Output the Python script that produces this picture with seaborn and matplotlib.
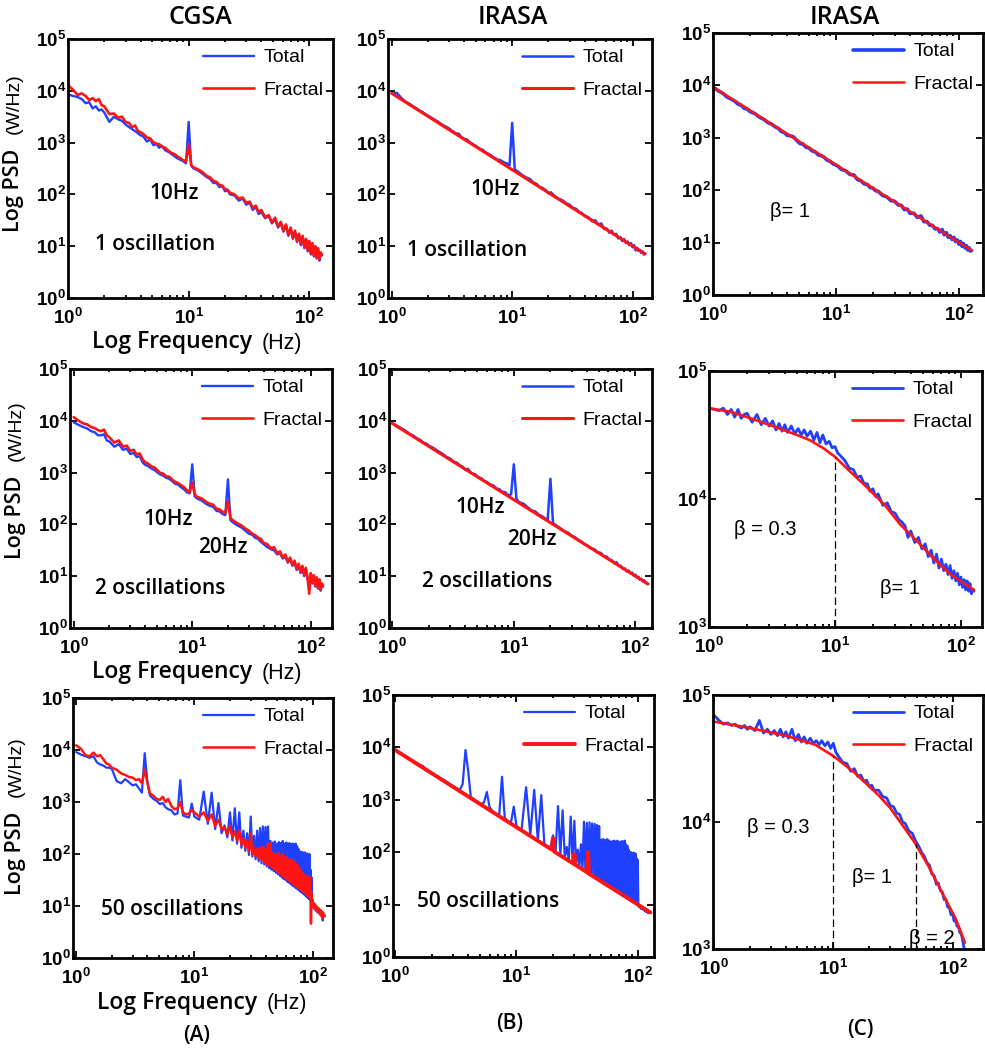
import numpy as np
import matplotlib
matplotlib.use("Agg")
import matplotlib.pyplot as plt
import matplotlib.ticker as mticker
import seaborn as sns

# ---------------- data (log10 PSD) ----------------
freq = [1.0, 1.1, 1.2, 1.3, 1.4, 1.5, 1.6, 1.7, 1.8, 1.9,
        2.0, 2.2, 2.4, 2.6, 2.8, 3.0, 3.2, 3.4, 3.6, 3.8,
        4.0, 4.2, 4.5, 4.8, 5.1, 5.4, 5.7, 6.0, 6.4, 6.8,
        7.2, 7.6, 8.0, 8.5, 9.0, 9.5, 10.0, 10.5, 11.0, 12.0,
        13.0, 14.0, 15.0, 16.0, 17.0, 18.0, 19.0, 20.0, 21.0, 22.0,
        24.0, 26.0, 28.0, 30.0, 32.0, 34.0, 36.0, 38.0, 40.0, 43.0,
        46.0, 49.0, 52.0, 55.0, 58.0, 61.0, 64.0, 67.0, 70.0, 73.0,
        76.0, 79.0, 82.0, 85.0, 88.0, 91.0, 94.0, 97.0, 100.0, 103.0,
        106.0, 109.0, 112.0, 115.0, 118.0, 121.0, 124.0, 127.0]

# 1 Hz bins for the 50-oscillation spectra
freq_50 = [1.0, 1.1, 1.2, 1.3, 1.4, 1.5, 1.6, 1.7, 1.8, 1.9,
           2.0, 2.2, 2.4, 2.6, 2.8, 3.0, 3.2, 3.4, 3.6, 3.8,
           4.0, 4.2, 4.5, 4.8, 5.1, 5.4, 5.7, 6.0, 6.4, 6.8,
           7.2, 7.6, 8.0, 8.5, 9.0, 9.5,
           10, 11, 12, 13, 14, 15, 16, 17, 18, 19,
           20, 21, 22, 23, 24, 25, 26, 27, 28, 29,
           30, 31, 32, 33, 34, 35, 36, 37, 38, 39,
           40, 41, 42, 43, 44, 45, 46, 47, 48, 49,
           50, 51, 52, 53, 54, 55, 56, 57, 58, 59,
           60, 61, 62, 63, 64, 65, 66, 67, 68, 69,
           70, 71, 72, 73, 74, 75, 76, 77, 78, 79,
           80, 81, 82, 83, 84, 85, 86, 87, 88, 89,
           90, 91, 92, 93, 94, 95, 96, 97, 98, 99,
           100, 101, 102, 103, 104, 105, 106, 107, 108, 109,
           110, 111, 112, 113, 114, 115, 116, 117, 118, 119,
           120, 121, 122, 123, 124, 127]

# CGSA, 1 oscillation
a1_total = [3.93, 3.90, 3.88, 3.84, 3.76, 3.78, 3.66, 3.70, 3.62, 3.64,
            3.58, 3.40, 3.50, 3.45, 3.42, 3.35, 3.30, 3.26, 3.22, 3.18,
            3.14, 3.12, 3.02, 3.06, 2.95, 2.97, 2.90, 2.94, 2.85, 2.82,
            2.78, 2.74, 2.70, 2.67, 2.64, 2.60, 3.40, 2.55, 2.50, 2.46,
            2.40, 2.34, 2.30, 2.22, 2.22, 2.14, 2.16, 2.06, 2.08, 2.00,
            1.98, 1.88, 1.92, 1.80, 1.84, 1.70, 1.76, 1.62, 1.66, 1.54,
            1.58, 1.44, 1.52, 1.36, 1.44, 1.28, 1.40, 1.20, 1.33, 1.14,
            1.27, 1.08, 1.22, 1.02, 1.17, 0.96, 1.12, 0.90, 1.07, 0.84,
            1.03, 0.80, 0.98, 0.76, 0.93, 0.72, 0.86, 0.82]
a1_fractal = [4.11, 4.02, 3.92, 3.95, 3.90, 3.82, 3.86, 3.80, 3.84, 3.72,
              3.70, 3.55, 3.56, 3.48, 3.50, 3.40, 3.38, 3.30, 3.33, 3.22,
              3.20, 3.17, 3.10, 3.08, 3.01, 2.98, 2.97, 2.92, 2.90, 2.84,
              2.80, 2.78, 2.74, 2.70, 2.66, 2.64, 2.97, 2.56, 2.52, 2.48,
              2.43, 2.36, 2.33, 2.26, 2.24, 2.18, 2.17, 2.10, 2.09, 2.03,
              2.00, 1.92, 1.94, 1.84, 1.86, 1.74, 1.78, 1.66, 1.70, 1.56,
              1.60, 1.46, 1.55, 1.38, 1.47, 1.30, 1.42, 1.22, 1.36, 1.16,
              1.30, 1.10, 1.24, 1.05, 1.20, 0.98, 1.14, 0.92, 1.10, 0.86,
              1.06, 0.82, 1.00, 0.78, 0.96, 0.75, 0.88, 0.84]

# CGSA, 2 oscillations
a2_total = [3.97, 3.92, 3.88, 3.85, 3.80, 3.78, 3.72, 3.72, 3.74, 3.62,
            3.60, 3.50, 3.55, 3.44, 3.46, 3.36, 3.38, 3.30, 3.32, 3.20,
            3.15, 3.13, 3.08, 3.05, 3.00, 2.96, 2.94, 2.90, 2.88, 2.83,
            2.78, 2.77, 2.72, 2.68, 2.62, 2.60, 3.16, 2.54, 2.50, 2.46,
            2.40, 2.36, 2.34, 2.26, 2.25, 2.20, 2.18, 2.87, 2.08, 2.04,
            1.98, 1.94, 1.88, 1.82, 1.80, 1.74, 1.72, 1.66, 1.62, 1.56,
            1.52, 1.50, 1.42, 1.44, 1.34, 1.38, 1.26, 1.32, 1.20, 1.26,
            1.12, 1.20, 1.06, 1.15, 1.00, 1.12, 0.94, 0.80, 1.02, 0.86,
            0.98, 0.80, 0.95, 0.76, 0.90, 0.72, 0.84, 0.80]
a2_fractal = [4.07, 4.00, 3.95, 3.93, 3.88, 3.86, 3.82, 3.80, 3.83, 3.72,
              3.68, 3.58, 3.62, 3.50, 3.52, 3.42, 3.44, 3.35, 3.37, 3.26,
              3.20, 3.18, 3.12, 3.10, 3.04, 2.99, 2.98, 2.93, 2.92, 2.86,
              2.82, 2.80, 2.76, 2.72, 2.66, 2.62, 2.81, 2.58, 2.53, 2.50,
              2.44, 2.40, 2.38, 2.30, 2.29, 2.24, 2.22, 2.45, 2.12, 2.08,
              2.02, 1.98, 1.92, 1.88, 1.82, 1.79, 1.74, 1.72, 1.64, 1.62,
              1.54, 1.56, 1.44, 1.48, 1.36, 1.42, 1.28, 1.36, 1.22, 1.30,
              1.14, 1.24, 1.08, 1.20, 1.02, 1.16, 0.96, 0.66, 1.06, 0.88,
              1.02, 0.82, 0.98, 0.78, 0.94, 0.74, 0.86, 0.82]

# CGSA, 50 oscillations
a3_total = [3.96, 3.91, 3.88, 3.85, 3.88, 3.76, 3.72, 3.70, 3.66, 3.66,
            3.64, 3.40, 3.36, 3.44, 3.38, 3.32, 3.34, 3.26, 3.18, 3.94,
            3.40, 3.13, 3.06, 3.02, 2.96, 2.98, 2.90, 2.86, 2.84, 2.76,
            2.78, 3.42, 2.74, 2.72, 2.70, 2.97,
            2.72, 2.66, 3.20, 2.58, 3.18, 2.48, 2.98, 2.40, 2.55, 2.32,
            2.80, 2.26, 2.88, 2.20, 2.80, 2.12, 2.45, 2.06, 2.40, 1.98,
            2.72, 1.95, 2.35, 1.90, 2.45, 1.86, 2.50, 1.82, 2.53, 1.80,
            2.52, 1.76, 2.53, 1.73, 2.25, 1.70, 2.22, 1.67, 2.24, 1.64,
            2.20, 1.61, 2.23, 1.58, 2.21, 1.55, 2.25, 1.52, 2.20, 1.50,
            2.22, 1.47, 2.20, 1.45, 2.21, 1.43, 2.19, 1.40, 2.20, 1.38,
            2.18, 1.36, 2.20, 1.34, 2.15, 1.32, 2.10, 1.30, 2.05, 1.28,
            2.03, 1.26, 2.04, 1.24, 2.02, 1.22, 2.03, 1.20, 2.00, 1.18,
            2.01, 1.16, 1.98, 1.14, 2.00, 1.12, 1.70, 1.10, 1.55, 1.05,
            1.02, 1.00, 0.96, 1.01, 0.94, 0.98, 0.92, 0.96, 0.90, 0.95,
            0.88, 0.93, 0.90, 0.92, 0.86, 0.90, 0.84, 0.89, 0.83, 0.88,
            0.80, 0.86, 0.72, 0.85, 0.83, 0.82]
a3_fractal = [4.09, 4.02, 3.90, 3.88, 3.95, 3.88, 3.90, 3.82, 3.74, 3.72,
              3.66, 3.62, 3.55, 3.52, 3.48, 3.47, 3.42, 3.44, 3.36, 3.62,
              3.38, 3.17, 3.12, 3.06, 3.04, 3.10, 3.00, 3.06, 2.92, 2.86,
              2.88, 3.00, 2.80, 2.76, 2.78, 2.85,
              2.80, 2.72, 2.80, 2.64, 2.76, 2.54, 2.66, 2.48, 2.52, 2.38,
              2.54, 2.32, 2.44, 2.26, 2.45, 2.18, 2.30, 2.12, 2.26, 2.04,
              2.40, 2.00, 2.12, 1.96, 2.10, 1.92, 2.12, 1.88, 2.14, 1.84,
              2.10, 1.80, 2.20, 1.78, 2.21, 1.75, 2.02, 1.72, 2.00, 1.68,
              1.98, 1.65, 2.02, 1.62, 1.95, 1.59, 2.00, 1.56, 1.92, 1.54,
              1.95, 1.51, 1.88, 1.49, 1.90, 1.47, 1.85, 1.44, 1.88, 1.42,
              1.84, 1.40, 1.82, 1.38, 1.80, 1.36, 1.74, 1.34, 1.72, 1.32,
              1.66, 1.30, 1.62, 1.28, 1.60, 1.26, 1.58, 1.24, 1.56, 1.22,
              1.58, 1.20, 1.55, 1.18, 1.56, 1.16, 1.30, 0.66, 1.25, 1.10,
              1.12, 1.04, 0.98, 1.05, 0.96, 1.02, 0.94, 1.00, 0.92, 0.98,
              0.90, 0.96, 0.88, 0.95, 0.86, 0.93, 0.84, 0.92, 0.82, 0.90,
              0.80, 0.88, 0.78, 0.87, 0.82, 0.80]

# IRASA (1/f noise + oscillations)
b1_total = [3.95, 3.96, 3.86, 3.79, 3.75, 3.70, 3.66, 3.62, 3.59, 3.55,
            3.52, 3.46, 3.41, 3.35, 3.31, 3.27, 3.22, 3.18, 3.17, 3.10,
            3.07, 3.06, 3.00, 2.96, 2.92, 2.88, 2.86, 2.81, 2.78, 2.74,
            2.70, 2.67, 2.66, 2.62, 2.60, 2.56, 3.38, 2.48, 2.45, 2.38,
            2.33, 2.30, 2.23, 2.20, 2.14, 2.12, 2.08, 2.02, 2.04, 1.99,
            1.92, 1.89, 1.83, 1.80, 1.74, 1.72, 1.66, 1.64, 1.58, 1.56,
            1.48, 1.50, 1.42, 1.44, 1.33, 1.34, 1.26, 1.30, 1.22, 1.24,
            1.15, 1.18, 1.10, 1.14, 1.06, 1.09, 1.02, 1.06, 0.98, 1.02,
            0.92, 0.97, 0.91, 0.93, 0.87, 0.90, 0.84, 0.86]
b1_fractal_f = [1.0, 127.0]
b1_fractal = [3.95, 0.85]

b2_total = [3.95, 3.90, 3.85, 3.80, 3.74, 3.71, 3.66, 3.63, 3.58, 3.56,
            3.52, 3.47, 3.41, 3.36, 3.30, 3.27, 3.21, 3.19, 3.14, 3.11,
            3.05, 3.07, 2.98, 2.97, 2.91, 2.89, 2.84, 2.82, 2.77, 2.75,
            2.69, 2.68, 2.63, 2.62, 2.56, 2.58, 3.16, 2.50, 2.43, 2.40,
            2.33, 2.27, 2.25, 2.19, 2.16, 2.12, 2.09, 2.88, 2.03, 1.99,
            1.93, 1.87, 1.84, 1.78, 1.75, 1.70, 1.67, 1.62, 1.60, 1.54,
            1.52, 1.46, 1.45, 1.38, 1.38, 1.32, 1.31, 1.25, 1.27, 1.20,
            1.20, 1.14, 1.15, 1.09, 1.11, 1.05, 1.07, 1.01, 1.03, 0.97,
            0.99, 0.93, 0.95, 0.90, 0.92, 0.87, 0.86, 0.85]
b2_fractal_f = [1.0, 127.0]
b2_fractal = [3.95, 0.85]

b3_total = [3.96, 3.89, 3.84, 3.78, 3.74, 3.70, 3.67, 3.64, 3.58, 3.55,
            3.50, 3.46, 3.40, 3.36, 3.30, 3.26, 3.22, 3.18, 3.30, 3.95,
            3.55, 3.06, 3.00, 2.96, 2.91, 2.95, 3.15, 2.86, 2.77, 2.73,
            2.70, 3.44, 2.66, 2.59, 2.56, 2.87,
            2.50, 2.42, 3.24, 2.33, 3.19, 2.22, 3.09, 2.14, 2.12, 2.08,
            2.32, 2.01, 2.88, 1.95, 2.80, 1.90, 2.10, 1.85, 2.68, 1.80,
            2.60, 1.76, 2.05, 1.72, 2.15, 1.68, 2.58, 1.65, 2.56, 1.61,
            2.57, 1.58, 2.55, 1.55, 2.54, 1.52, 2.52, 1.49, 2.50, 1.47,
            2.24, 1.44, 2.25, 1.41, 2.23, 1.39, 2.25, 1.37, 2.22, 1.35,
            2.20, 1.32, 2.21, 1.30, 2.22, 1.28, 2.20, 1.26, 2.22, 1.25,
            2.18, 1.23, 2.20, 1.21, 2.21, 1.19, 2.20, 1.18, 2.22, 1.16,
            2.15, 1.14, 2.12, 1.13, 2.05, 1.11, 2.00, 1.10, 2.00, 1.08,
            1.98, 1.07, 1.99, 1.05, 1.98, 1.04, 1.97, 1.03, 1.88, 1.01,
            1.85, 1.00, 0.96, 0.99, 0.95, 0.98, 0.92, 0.96, 0.93, 0.95,
            0.91, 0.94, 0.90, 0.93, 0.88, 0.92, 0.87, 0.91, 0.86, 0.90,
            0.85, 0.89, 0.84, 0.88, 0.86, 0.85]
b3_fractal_f = [1.0, 19.5, 20.0, 20.5, 29.5, 30.0, 30.5, 38.5, 39.0, 39.5, 127.0]
b3_fractal = [3.95, 2.05, 2.27, 2.01, 1.78, 1.97, 1.76, 1.61, 2.00, 1.59, 0.85]

# IRASA (pure fractal signals, beta = 1 / broken power laws)
c1_total = [3.97, 3.90, 3.85, 3.78, 3.74, 3.70, 3.64, 3.62, 3.56, 3.55,
            3.50, 3.46, 3.39, 3.35, 3.29, 3.26, 3.21, 3.18, 3.12, 3.10,
            3.05, 3.04, 3.02, 2.95, 2.89, 2.88, 2.82, 2.81, 2.75, 2.73,
            2.67, 2.66, 2.63, 2.57, 2.55, 2.50, 2.48, 2.45, 2.40, 2.37,
            2.30, 2.29, 2.20, 2.18, 2.12, 2.11, 2.05, 2.04, 1.99, 1.98,
            1.90, 1.87, 1.80, 1.79, 1.72, 1.71, 1.63, 1.64, 1.56, 1.56,
            1.48, 1.51, 1.40, 1.40, 1.33, 1.33, 1.26, 1.27, 1.20, 1.25,
            1.15, 1.19, 1.10, 1.13, 1.06, 1.10, 1.02, 1.05, 0.97, 1.02,
            0.93, 0.98, 0.90, 0.94, 0.86, 0.90, 0.84, 0.85]
c1_fractal_f = [1.0, 127.0]
c1_fractal = [3.97, 0.85]

c2_total = [4.71, 4.70, 4.69, 4.71, 4.66, 4.70, 4.64, 4.70, 4.63, 4.66,
            4.67, 4.60, 4.66, 4.58, 4.63, 4.57, 4.61, 4.54, 4.59, 4.53,
            4.58, 4.52, 4.57, 4.51, 4.55, 4.50, 4.54, 4.49, 4.53, 4.46,
            4.52, 4.44, 4.50, 4.43, 4.45, 4.40, 4.41, 4.36, 4.34, 4.30,
            4.24, 4.23, 4.17, 4.18, 4.12, 4.12, 4.06, 4.08, 4.02, 4.04,
            3.95, 3.97, 3.90, 3.89, 3.84, 3.82, 3.79, 3.70, 3.75, 3.66,
            3.70, 3.61, 3.65, 3.55, 3.60, 3.50, 3.57, 3.46, 3.53, 3.44,
            3.49, 3.41, 3.48, 3.38, 3.44, 3.36, 3.42, 3.33, 3.39, 3.31,
            3.37, 3.29, 3.36, 3.28, 3.34, 3.26, 3.29, 3.28]
c2_fractal_f = [1.0, 1.5, 2.0, 3.0, 4.0, 5.0, 6.3, 8.0, 10.0, 13.0,
                18.0, 25.0, 33.0, 45.0, 60.0, 83.0, 127.0]
c2_fractal = [4.71, 4.68, 4.64, 4.58, 4.535, 4.50, 4.46, 4.40, 4.33, 4.22,
              4.09, 3.95, 3.80, 3.67, 3.54, 3.41, 3.29]
c2_break_f = [10.0]
c2_break_top = [4.33]

c3_total = [4.84, 4.80, 4.77, 4.78, 4.76, 4.77, 4.75, 4.74, 4.76, 4.73,
            4.75, 4.72, 4.80, 4.70, 4.73, 4.69, 4.72, 4.68, 4.73, 4.67,
            4.71, 4.66, 4.73, 4.64, 4.69, 4.63, 4.67, 4.62, 4.66, 4.62,
            4.64, 4.61, 4.64, 4.60, 4.63, 4.58, 4.62, 4.55, 4.52, 4.47,
            4.46, 4.40, 4.42, 4.36, 4.37, 4.32, 4.33, 4.28, 4.29, 4.25,
            4.25, 4.20, 4.19, 4.13, 4.12, 4.07, 4.06, 4.00, 3.99, 3.93,
            3.91, 3.85, 3.81, 3.76, 3.73, 3.68, 3.66, 3.59, 3.58, 3.51,
            3.52, 3.46, 3.45, 3.39, 3.39, 3.33, 3.33, 3.27, 3.28, 3.22,
            3.23, 3.18, 3.18, 3.13, 3.12, 3.08, 3.02, 2.99]
c3_fractal_f = [1.0, 2.0, 4.0, 7.0, 10.0, 15.0, 20.0, 24.0, 30.0, 37.0,
                48.0, 63.0, 81.0, 106.0, 127.0]
c3_fractal = [4.79, 4.74, 4.68, 4.61, 4.52, 4.39, 4.28, 4.21, 4.11, 3.99,
              3.84, 3.65, 3.45, 3.24, 3.05]
c3_break_f = [10.0, 49.0]
c3_break_top = [4.52, 3.83]

col_titles = ["CGSA", "IRASA", "IRASA"]
col_tags = ["(A)", "(B)", "(C)"]

# ---------------- style ----------------
BLUE = "#2040ff"
RED = "#ff1414"
W, H = 985, 1050

sns.set_theme(style="ticks", rc={"axes.edgecolor": "black", "text.color": "black",
                                 "xtick.color": "black", "ytick.color": "black",
                                 "axes.linewidth": 2.0})
plt.rcParams["font.family"] = ["Open Sans", "DejaVu Sans"]
plt.rcParams["mathtext.default"] = "regular"

fig = plt.figure(figsize=(W / 100, H / 100), dpi=100)


def box(l, t, r, b):
    # pixel box -> figure fraction
    return [l / W, 1 - b / H, (r - l) / W, (b - t) / H]


def fx(x):
    return x / W


def fy(y):
    return 1 - y / H


panels = [
    dict(pos=(68, 39, 333, 298), xlim=(1.0, 157), ylim=(1, 1e5),
         total=(freq, a1_total), fractal=(freq, a1_fractal), lw=(1.7, 1.9),
         notes=[("10Hz", 0.40, 0.405), ("1 oscillation", 0.33, 0.205)]),
    dict(pos=(388, 39, 652, 298), xlim=(0.93, 145), ylim=(1, 1e5),
         total=(freq, b1_total), fractal=(b1_fractal_f, b1_fractal), lw=(1.8, 2.2),
         notes=[("10Hz", 0.405, 0.417), ("1 oscillation", 0.30, 0.185)]),
    dict(pos=(713, 33, 983, 295), xlim=(1.0, 157), ylim=(1, 1e5),
         total=(freq, c1_total), fractal=(c1_fractal_f, c1_fractal), lw=(2.6, 1.8),
         notes=[("β= 1", 0.285, 0.317)]),
    dict(pos=(70, 369, 332, 628), xlim=(0.93, 151), ylim=(1, 1e5),
         total=(freq, a2_total), fractal=(freq, a2_fractal), lw=(1.7, 1.9),
         notes=[("10Hz", 0.374, 0.417), ("20Hz", 0.584, 0.309),
                ("2 oscillations", 0.343, 0.154)]),
    dict(pos=(389, 369, 652, 628), xlim=(0.94, 137), ylim=(1, 1e5),
         total=(freq, b2_total), fractal=(b2_fractal_f, b2_fractal), lw=(1.8, 2.2),
         notes=[("10Hz", 0.346, 0.467), ("20Hz", 0.544, 0.34),
                ("2 oscillations", 0.372, 0.178)]),
    dict(pos=(709, 371, 982, 627), xlim=(1.0, 147), ylim=(1e3, 1e5),
         total=(freq, c2_total), fractal=(c2_fractal_f, c2_fractal), lw=(2.0, 1.9),
         breaks=(c2_break_f, c2_break_top),
         notes=[("β = 0.3", 0.205, 0.379), ("β= 1", 0.70, 0.152)]),
    dict(pos=(73, 698, 333, 958), xlim=(0.94, 149), ylim=(1, 1e5),
         total=(freq_50, a3_total), fractal=(freq_50, a3_fractal), lw=(1.6, 1.8),
         notes=[("50 oscillations", 0.38, 0.185)]),
    dict(pos=(393, 695, 654, 957), xlim=(0.96, 136), ylim=(1, 1e5),
         total=(freq_50, b3_total), fractal=(b3_fractal_f, b3_fractal), lw=(1.6, 2.8),
         notes=[("50 oscillations", 0.364, 0.21)]),
    dict(pos=(713, 695, 983, 949), xlim=(0.98, 180), ylim=(1e3, 1e5),
         total=(freq, c3_total), fractal=(c3_fractal_f, c3_fractal), lw=(2.0, 1.9),
         breaks=(c3_break_f, c3_break_top),
         notes=[("β = 0.3", 0.24, 0.48), ("β= 1", 0.59, 0.28), ("β = 2", 0.81, 0.043)]),
]

for i, p in enumerate(panels):
    ax = fig.add_axes(box(*p["pos"]))
    ax.set_xscale("log")
    ax.set_yscale("log")
    f_t, v_t = p["total"]
    f_f, v_f = p["fractal"]
    sns.lineplot(x=f_t, y=10 ** np.asarray(v_t), ax=ax, color=BLUE, lw=p["lw"][0],
                 label="Total", estimator=None, sort=False)
    sns.lineplot(x=f_f, y=10 ** np.asarray(v_f), ax=ax, color=RED, lw=p["lw"][1],
                 label="Fractal", estimator=None, sort=False)
    if "breaks" in p:
        bf, bt = p["breaks"]
        ax.vlines(bf, p["ylim"][0], 10 ** np.asarray(bt), colors="black",
                  linestyles=(0, (6, 3)), lw=0.9)
    ax.set_xlim(p["xlim"])
    ax.set_ylim(p["ylim"])
    ax.set_xlabel("")
    ax.set_ylabel("")

    ax.xaxis.set_major_locator(mticker.LogLocator(base=10, numticks=12))
    ax.xaxis.set_minor_locator(mticker.LogLocator(base=10, subs=np.arange(2, 10), numticks=30))
    ax.xaxis.set_minor_formatter(mticker.NullFormatter())
    ax.yaxis.set_major_locator(mticker.LogLocator(base=10, numticks=12))
    ax.yaxis.set_minor_locator(mticker.NullLocator())
    ax.tick_params(which="both", direction="in", top=True, right=True, width=1.3)
    ax.tick_params(which="major", length=5, labelsize=13.5, labelfontfamily="Liberation Sans")
    ax.tick_params(which="minor", length=2.5)
    ax.tick_params(axis="x", pad=7)
    ax.tick_params(axis="y", pad=1.5)
    for lab in ax.get_xticklabels() + ax.get_yticklabels():
        lab.set_fontweight("bold")
    for s in ax.spines.values():
        s.set_linewidth(2.0)
        s.set_color("black")

    handles, labels = ax.get_legend_handles_labels()
    ax.legend(handles, labels, loc="upper right", frameon=False, handlelength=2.6,
              handletextpad=0.5, labelspacing=0.75, borderaxespad=0.15, borderpad=0.35,
              prop={"family": "Liberation Sans", "size": 14})

    for txt, x, y in p["notes"]:
        if "β" in txt:
            ax.text(x, y, txt, transform=ax.transAxes, ha="center", va="center",
                    fontsize=14.5, family="Liberation Sans")
        else:
            ax.text(x, y, txt, transform=ax.transAxes, ha="center", va="center",
                    fontsize=15, fontweight="semibold")

# column titles and tags
for txt, x in zip(col_titles, [200, 513, 845]):
    fig.text(fx(x), fy(17), txt, ha="center", va="center", fontsize=18, fontweight="semibold")
for txt, x, y in zip(col_tags, [197, 510, 860], [1035, 1023, 1030]):
    fig.text(fx(x), fy(y), txt, ha="center", va="center", fontsize=15, fontweight="semibold")

# axis labels on the left column
for y_main, y_unit, x in [(232, 134, 13), (559, 461, 15), (895, 797, 15)]:
    fig.text(fx(x), fy(y_main), "Log PSD", rotation=90, ha="center", va="bottom",
             fontsize=15.5, fontweight="semibold")
    fig.text(fx(x + 1), fy(y_unit), "(W/Hz)", rotation=90, ha="center", va="bottom",
             fontsize=14, family="Liberation Sans")
for y, x0 in [(342, 92), (672, 92), (1003, 97)]:
    fig.text(fx(x0), fy(y), "Log Frequency", ha="left", va="center", fontsize=16.5,
             fontweight="semibold")
    fig.text(fx(x0 + 170), fy(y + 1), "(Hz)", ha="left", va="center", fontsize=15.5,
             family="Liberation Sans")

fig.savefig("out.png", dpi=100)
